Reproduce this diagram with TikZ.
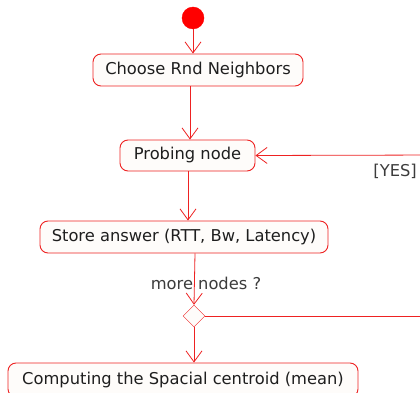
\documentclass[tikz,border=0pt]{standalone}
\usepackage{fontspec}
\setmainfont{DejaVu Sans}
\usetikzlibrary{arrows.meta,shapes.geometric}
\definecolor{edge}{RGB}{238,34,34}
\definecolor{boxfill}{RGB}{254,252,250}
\definecolor{ink}{RGB}{30,30,30}
\definecolor{note}{RGB}{60,60,60}
\tikzset{
  act/.style={draw=edge, line width=0.9pt, fill=boxfill, rounded corners=8pt, inner sep=0pt,
    text=ink, font=\fontsize{16.3}{19}\selectfont},
  flow/.style={draw=edge, line width=0.8pt},
  arr/.style={flow, -{Straight Barb[length=11pt,width=16pt,line width=0.8pt]}},
  lbl/.style={text=note, font=\fontsize{16.3}{19}\selectfont, inner sep=0pt}
}
\begin{document}
\begin{tikzpicture}[x=1pt,y=-1pt]
\useasboundingbox (0,0) rectangle (420,393);
\clip (0,0) rectangle (420,393);
\fill[white] (0,0) rectangle (420,393);

% activity start
\node[circle, fill=red, draw=red, minimum size=22pt, inner sep=0pt] (start) at (193,18) {};

% activities
\node[act, minimum width=210pt, minimum height=32pt] (choose) at (198,70) {Choose Rnd Neighbors};
\node[act, minimum width=135pt, minimum height=31pt] (probe) at (187.5,155.5) {Probing node};
\node[act, minimum width=288pt, minimum height=32pt] (store) at (184,237) {Store answer (RTT, Bw, Latency)};
\node[diamond, draw=edge, fill=boxfill, minimum width=22pt, minimum height=22pt, inner sep=0pt] (dec) at (194,316) {};
\node[act, minimum width=350pt, minimum height=34pt] (centroid) at (183,380) {Computing the Spacial centroid (mean)};

% guard labels
\node[lbl, anchor=east] (yes) at (417,171) {[YES]};
\node[lbl] (more) at (206,283) {more nodes ?};

% vertical positions of the flow lines
\coordinate (x1) at (193,0);
\coordinate (x2) at (190,0);
\coordinate (x3) at (188,0);
\coordinate (x4) at (195,0);
\coordinate (x5) at (194,0);

\draw[arr] (start.south) -- (choose.north -| x1);
\draw[arr] (choose.south -| x2) -- (probe.north -| x2);
\draw[arr] (probe.south -| x3) -- (store.north -| x3);
\draw[arr] (store.south -| x4) -- (dec.north);
\draw[arr] (dec.south) -- (centroid.north -| x5);

% loop back through the right side
\coordinate (outR) at (440,316);
\coordinate (inR) at (440,155);
\draw[flow] (dec.east) -- (outR);
\draw[arr] (inR) -- (probe.east);
\end{tikzpicture}
\end{document}
